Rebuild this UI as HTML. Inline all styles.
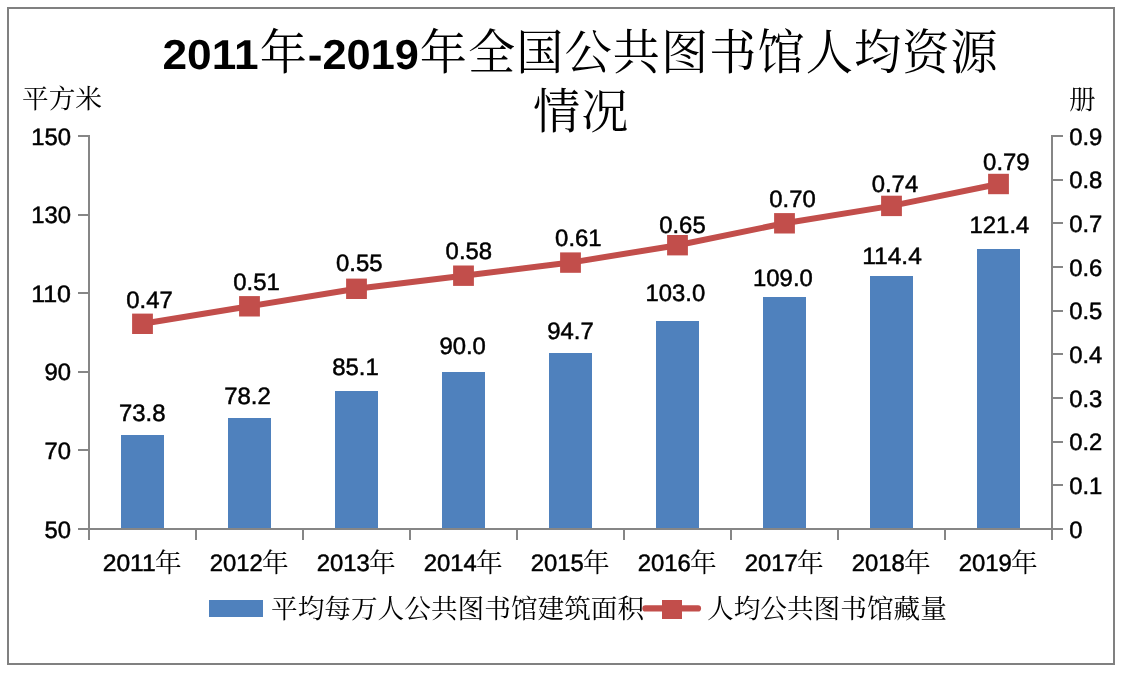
<!DOCTYPE html>
<html lang="zh-CN"><head><meta charset="utf-8"><title>2011年-2019年全国公共图书馆人均资源情况</title>
<style>html,body{margin:0;padding:0;background:#fff}svg{display:block}.n,.tb{text-rendering:geometricPrecision}.n{font-family:"Liberation Sans", sans-serif;font-size:23.8px;fill:#000;stroke:#000;stroke-width:0.5px}.c{font-family:"Liberation Serif", "Noto Serif CJK SC", serif;font-size:26.67px;fill:#000}.tb{font-family:"Liberation Sans", sans-serif;font-weight:bold;font-size:41.8px;fill:#000}.tc{font-family:"Liberation Serif", "Noto Serif CJK SC", serif;font-size:47.2px;letter-spacing:1.05px;fill:#000}</style></head><body>
<svg width="1124" height="675" viewBox="0 0 1124 675">
<rect x="0" y="0" width="1124" height="675" fill="#fff"/>
<rect x="8" y="8" width="1106" height="656" fill="#fff" stroke="#808080" stroke-width="2"/>
<rect x="121" y="435" width="43" height="94" fill="#4F81BD"/>
<rect x="228" y="418" width="43" height="111" fill="#4F81BD"/>
<rect x="335" y="391" width="43" height="138" fill="#4F81BD"/>
<rect x="442" y="372" width="43" height="157" fill="#4F81BD"/>
<rect x="549" y="353" width="43" height="176" fill="#4F81BD"/>
<rect x="656" y="321" width="43" height="208" fill="#4F81BD"/>
<rect x="763" y="297" width="43" height="232" fill="#4F81BD"/>
<rect x="870" y="276" width="43" height="253" fill="#4F81BD"/>
<rect x="977" y="249" width="43" height="280" fill="#4F81BD"/>
<g stroke="#868686" stroke-width="2" fill="none" shape-rendering="crispEdges">
<line x1="89" y1="135" x2="89" y2="540"/>
<line x1="1052" y1="135" x2="1052" y2="540"/>
<line x1="78" y1="529" x2="1063" y2="529"/>
<line x1="78" y1="136" x2="89" y2="136"/>
<line x1="78" y1="215" x2="89" y2="215"/>
<line x1="78" y1="293" x2="89" y2="293"/>
<line x1="78" y1="372" x2="89" y2="372"/>
<line x1="78" y1="450" x2="89" y2="450"/>
<line x1="1052" y1="136" x2="1063" y2="136"/>
<line x1="1052" y1="180" x2="1063" y2="180"/>
<line x1="1052" y1="223" x2="1063" y2="223"/>
<line x1="1052" y1="267" x2="1063" y2="267"/>
<line x1="1052" y1="311" x2="1063" y2="311"/>
<line x1="1052" y1="354" x2="1063" y2="354"/>
<line x1="1052" y1="398" x2="1063" y2="398"/>
<line x1="1052" y1="442" x2="1063" y2="442"/>
<line x1="1052" y1="485" x2="1063" y2="485"/>
<line x1="196" y1="529" x2="196" y2="540"/>
<line x1="303" y1="529" x2="303" y2="540"/>
<line x1="410" y1="529" x2="410" y2="540"/>
<line x1="517" y1="529" x2="517" y2="540"/>
<line x1="624" y1="529" x2="624" y2="540"/>
<line x1="731" y1="529" x2="731" y2="540"/>
<line x1="838" y1="529" x2="838" y2="540"/>
<line x1="945" y1="529" x2="945" y2="540"/>
</g>
<polyline points="142.5,323.8 249.5,306.3 356.5,288.8 463.5,275.7 570.5,262.6 677.5,245.2 784.5,223.3 891.5,205.9 998.5,184.0" fill="none" stroke="#C24E4B" stroke-width="6" stroke-linejoin="round" stroke-linecap="round"/>
<rect x="132.1" y="313.6" width="20.8" height="20.4" fill="#C24E4B"/>
<rect x="239.1" y="296.1" width="20.8" height="20.4" fill="#C24E4B"/>
<rect x="346.1" y="278.6" width="20.8" height="20.4" fill="#C24E4B"/>
<rect x="453.1" y="265.5" width="20.8" height="20.4" fill="#C24E4B"/>
<rect x="560.1" y="252.4" width="20.8" height="20.4" fill="#C24E4B"/>
<rect x="667.1" y="235.0" width="20.8" height="20.4" fill="#C24E4B"/>
<rect x="774.1" y="213.1" width="20.8" height="20.4" fill="#C24E4B"/>
<rect x="881.1" y="195.7" width="20.8" height="20.4" fill="#C24E4B"/>
<rect x="988.1" y="173.8" width="20.8" height="20.4" fill="#C24E4B"/>
<text class="n" x="31.2" y="144.6" textLength="39.8" lengthAdjust="spacingAndGlyphs">150</text>
<text class="n" x="31.2" y="223.2" textLength="39.8" lengthAdjust="spacingAndGlyphs">130</text>
<text class="n" x="31.2" y="301.8" textLength="39.8" lengthAdjust="spacingAndGlyphs">110</text>
<text class="n" x="44.5" y="380.4" textLength="26.5" lengthAdjust="spacingAndGlyphs">90</text>
<text class="n" x="44.5" y="459.0" textLength="26.5" lengthAdjust="spacingAndGlyphs">70</text>
<text class="n" x="44.5" y="537.6" textLength="26.5" lengthAdjust="spacingAndGlyphs">50</text>
<text class="n" x="1069.2" y="144.6" textLength="33.2" lengthAdjust="spacingAndGlyphs">0.9</text>
<text class="n" x="1069.2" y="188.3" textLength="33.2" lengthAdjust="spacingAndGlyphs">0.8</text>
<text class="n" x="1069.2" y="231.9" textLength="33.2" lengthAdjust="spacingAndGlyphs">0.7</text>
<text class="n" x="1069.2" y="275.6" textLength="33.2" lengthAdjust="spacingAndGlyphs">0.6</text>
<text class="n" x="1069.2" y="319.3" textLength="33.2" lengthAdjust="spacingAndGlyphs">0.5</text>
<text class="n" x="1069.2" y="362.9" textLength="33.2" lengthAdjust="spacingAndGlyphs">0.4</text>
<text class="n" x="1069.2" y="406.6" textLength="33.2" lengthAdjust="spacingAndGlyphs">0.3</text>
<text class="n" x="1069.2" y="450.3" textLength="33.2" lengthAdjust="spacingAndGlyphs">0.2</text>
<text class="n" x="1069.2" y="493.9" textLength="33.2" lengthAdjust="spacingAndGlyphs">0.1</text>
<text class="n" x="1069.2" y="537.6" textLength="13.2" lengthAdjust="spacingAndGlyphs">0</text>
<text class="n" x="119.0" y="421.4" textLength="46.5" lengthAdjust="spacingAndGlyphs">73.8</text>
<text class="n" x="224.2" y="403.6" textLength="46.5" lengthAdjust="spacingAndGlyphs">78.2</text>
<text class="n" x="332.3" y="374.7" textLength="46.5" lengthAdjust="spacingAndGlyphs">85.1</text>
<text class="n" x="439.4" y="354.0" textLength="46.5" lengthAdjust="spacingAndGlyphs">90.0</text>
<text class="n" x="547.3" y="338.9" textLength="46.5" lengthAdjust="spacingAndGlyphs">94.7</text>
<text class="n" x="645.5" y="300.9" textLength="59.7" lengthAdjust="spacingAndGlyphs">103.0</text>
<text class="n" x="753.1" y="286.0" textLength="59.7" lengthAdjust="spacingAndGlyphs">109.0</text>
<text class="n" x="862.2" y="264.0" textLength="59.7" lengthAdjust="spacingAndGlyphs">114.4</text>
<text class="n" x="969.6" y="232.8" textLength="59.7" lengthAdjust="spacingAndGlyphs">121.4</text>
<text class="n" x="126.3" y="308.3" textLength="46.5" lengthAdjust="spacingAndGlyphs">0.47</text>
<text class="n" x="233.3" y="289.8" textLength="46.5" lengthAdjust="spacingAndGlyphs">0.51</text>
<text class="n" x="336.0" y="270.5" textLength="46.5" lengthAdjust="spacingAndGlyphs">0.55</text>
<text class="n" x="445.6" y="258.7" textLength="46.5" lengthAdjust="spacingAndGlyphs">0.58</text>
<text class="n" x="555.1" y="245.6" textLength="46.5" lengthAdjust="spacingAndGlyphs">0.61</text>
<text class="n" x="659.2" y="232.5" textLength="46.5" lengthAdjust="spacingAndGlyphs">0.65</text>
<text class="n" x="769.3" y="206.8" textLength="46.5" lengthAdjust="spacingAndGlyphs">0.70</text>
<text class="n" x="871.7" y="191.9" textLength="46.5" lengthAdjust="spacingAndGlyphs">0.74</text>
<text class="n" x="983.1" y="169.6" textLength="46.5" lengthAdjust="spacingAndGlyphs">0.79</text>
<text x="102.7" y="571"><tspan class="n" textLength="53.0" lengthAdjust="spacingAndGlyphs">2011</tspan><tspan class="c" x="155.0" dy="0.9">年</tspan></text>
<text x="209.7" y="571"><tspan class="n" textLength="53.0" lengthAdjust="spacingAndGlyphs">2012</tspan><tspan class="c" x="262.0" dy="0.9">年</tspan></text>
<text x="316.7" y="571"><tspan class="n" textLength="53.0" lengthAdjust="spacingAndGlyphs">2013</tspan><tspan class="c" x="369.0" dy="0.9">年</tspan></text>
<text x="423.7" y="571"><tspan class="n" textLength="53.0" lengthAdjust="spacingAndGlyphs">2014</tspan><tspan class="c" x="476.0" dy="0.9">年</tspan></text>
<text x="530.7" y="571"><tspan class="n" textLength="53.0" lengthAdjust="spacingAndGlyphs">2015</tspan><tspan class="c" x="583.0" dy="0.9">年</tspan></text>
<text x="637.7" y="571"><tspan class="n" textLength="53.0" lengthAdjust="spacingAndGlyphs">2016</tspan><tspan class="c" x="690.0" dy="0.9">年</tspan></text>
<text x="744.7" y="571"><tspan class="n" textLength="53.0" lengthAdjust="spacingAndGlyphs">2017</tspan><tspan class="c" x="797.0" dy="0.9">年</tspan></text>
<text x="851.7" y="571"><tspan class="n" textLength="53.0" lengthAdjust="spacingAndGlyphs">2018</tspan><tspan class="c" x="904.0" dy="0.9">年</tspan></text>
<text x="958.7" y="571"><tspan class="n" textLength="53.0" lengthAdjust="spacingAndGlyphs">2019</tspan><tspan class="c" x="1011.0" dy="0.9">年</tspan></text>
<text class="c" x="22" y="107.5">平方米</text>
<text class="c" x="1069" y="108.5">册</text>
<rect x="209" y="600" width="54" height="17" fill="#4F81BD"/>
<text class="c" x="271" y="618">平均每万人公共图书馆建筑面积</text>
<line x1="645.4" y1="608.4" x2="698" y2="608.4" stroke="#C24E4B" stroke-width="6.2" stroke-linecap="round"/>
<rect x="662" y="600" width="20" height="19" fill="#C24E4B"/>
<text class="c" x="707" y="618">人均公共图书馆藏量</text>
<text y="69"><tspan class="tb" x="162.5" textLength="96.0" lengthAdjust="spacingAndGlyphs">2011</tspan><tspan class="tc" x="259.8">年</tspan><tspan class="tb" x="307.8" textLength="14.7" lengthAdjust="spacingAndGlyphs">-</tspan><tspan class="tb" x="322.5" textLength="96.3" lengthAdjust="spacingAndGlyphs">2019</tspan><tspan class="tc" x="419.8">年全国公共图书馆人均资源</tspan></text>
<text class="tc" x="533" y="128">情况</text>
</svg></body></html>
